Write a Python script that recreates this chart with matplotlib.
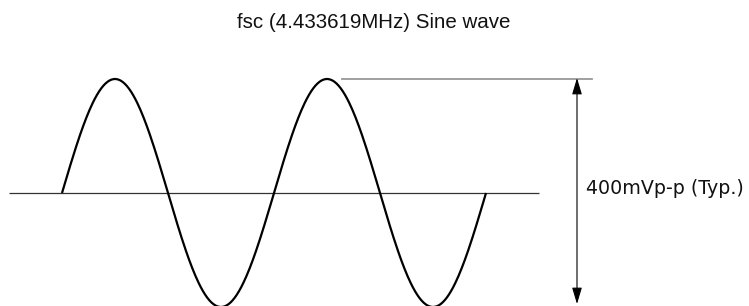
import numpy as np
import matplotlib
matplotlib.use("Agg")
import matplotlib.pyplot as plt

# Data / parameters
title_text = "fsc (4.433619MHz) Sine wave"
amp_label = "400mVp-p (Typ.)"
amplitude_mv = 200.0          # half of 400 mV p-p
n_cycles = 2                  # two full cycles shown
samples_per_cycle = 200

W, H = 749, 306
fig = plt.figure(figsize=(W / 100, H / 100), dpi=100)
ax = fig.add_axes([0, 0, 1, 1])
ax.set_axis_off()

# pixel mapping: x cycles -> px, y mV -> px
x0_px, px_per_cycle = 62.0, 212.0
y0_px, px_per_mv = 193.0, 114.0 / 200.0
ax.set_xlim(-x0_px / px_per_cycle, (W - x0_px) / px_per_cycle)
ax.set_ylim(-(H - y0_px) / px_per_mv, y0_px / px_per_mv)

def px2x(p):
    return (p - x0_px) / px_per_cycle

def py2y(p):
    return (y0_px - p) / px_per_mv

t = np.linspace(0, n_cycles, n_cycles * samples_per_cycle + 1)
v = amplitude_mv * np.sin(2 * np.pi * t)

# baseline
ax.plot([px2x(9), px2x(539)], [0, 0], color="#333333", lw=0.9, solid_capstyle="butt")
# wave
ax.plot(t, v, color="black", lw=1.6, solid_capstyle="butt", clip_on=False)
# top reference line
ax.plot([px2x(342), px2x(592)], [amplitude_mv, amplitude_mv], color="#999999", lw=1.3)
# double arrow
ax.annotate("", xy=(px2x(577), py2y(78)), xytext=(px2x(577), py2y(304)),
            arrowprops=dict(arrowstyle="<|-|>,head_length=1.0,head_width=0.3",
                            color="black", lw=0.8,
                            mutation_scale=10, shrinkA=0, shrinkB=0))
# label
ax.text(px2x(586), py2y(189), amp_label, fontsize=13.7,
        family="DejaVu Sans", va="center", ha="left", color="#111111")
# title
ax.text(px2x(374), py2y(23), title_text, fontsize=14.8,
        family="Liberation Sans", va="center", ha="center", color="#111111")

fig.savefig("out.png", dpi=100)
